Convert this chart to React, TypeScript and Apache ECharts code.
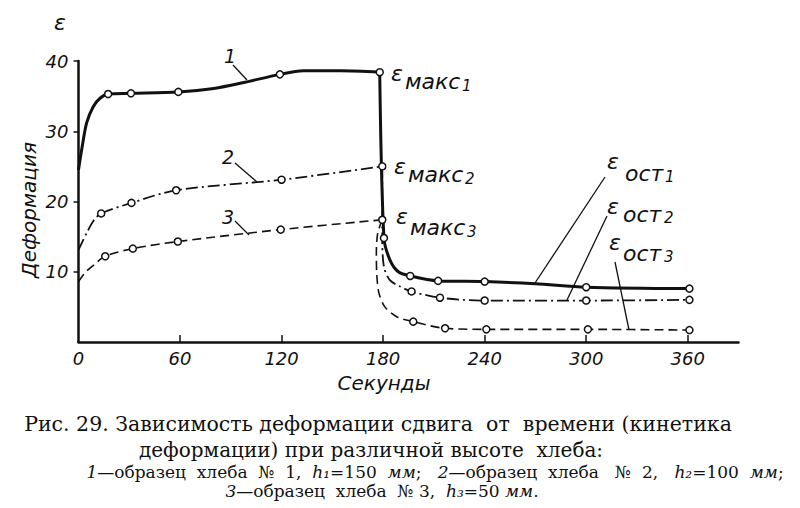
import React, { useEffect, useRef } from "react";
import * as echarts from "echarts";

// [seconds, deformation, 1 = measured point drawn as open circle]
type Pt = [number, number, number];

// Sample 1 (h1 = 150 mm), solid thick line
const load1: Pt[] = [
  [0, 24.5, 0], [1.9, 27.4, 0], [4.8, 31.2, 0], [8.7, 33.5, 0], [12.7, 34.7, 0],
  [17.5, 35.3, 1], [31, 35.4, 1], [59, 35.6, 1], [80, 36.1, 0], [97, 36.9, 0],
  [119, 38.1, 1], [133, 38.6, 0], [155, 38.6, 0], [178, 38.4, 1],
];
const unload1: Pt[] = [
  [178, 38.4, 0], [180.5, 14.8, 1], [184, 11.7, 0], [189, 10.0, 0], [196, 9.4, 1],
  [212.5, 8.7, 1], [240, 8.6, 1], [270, 8.3, 0], [300, 7.8, 1], [361, 7.6, 1],
];

// Sample 2 (h2 = 100 mm), dash-dot line
const load2: Pt[] = [
  [0, 13.1, 0], [4.8, 15.5, 0], [9, 17.3, 0], [13.4, 18.3, 1], [31.3, 19.8, 1],
  [57.7, 21.6, 1], [120, 23.1, 1], [179.5, 25.0, 1],
];
const unload2: Pt[] = [
  [179.5, 25.0, 0], [179.5, 14.5, 0], [180.5, 10.7, 0], [184, 8.8, 0], [190, 7.9, 0],
  [196.8, 7.2, 1], [213.6, 6.3, 1], [240, 5.9, 1], [300, 5.9, 1], [361, 6.0, 1],
];

// Sample 3 (h3 = 50 mm), dashed line
const load3: Pt[] = [
  [0, 8.6, 0], [4, 9.9, 0], [8.8, 10.9, 0], [15.8, 12.2, 1], [32.1, 13.3, 1],
  [58.7, 14.3, 1], [119.5, 16.0, 1], [179.5, 17.4, 1],
];
const unload3: Pt[] = [
  [179.5, 17.4, 0], [176.8, 15.5, 0], [176, 12.5, 0], [176.3, 9.5, 0], [177.5, 7.0, 0],
  [181, 5.0, 0], [188, 3.6, 0], [197.8, 2.9, 1], [216.6, 1.95, 1], [241, 1.8, 1],
  [301, 1.8, 1], [361, 1.7, 1],
];

const xTicks = [0, 60, 120, 180, 240, 300, 360];
const yTicks = [10, 20, 30, 40];

const S = "\u00A0";
const captionLines = [
  `Рис. 29. Зависимость деформации сдвига ${S}от ${S}времени (кинетика`,
  `деформации) при различной высоте ${S}хлеба:`,
];
const legendLine1 = `{i|1}—образец ${S}хлеба ${S}№ ${S}1, ${S}{i|h₁}=150 ${S}{i|мм}; ${S}${S}{i|2}—образец ${S}хлеба ${S}${S}№ ${S}2, ${S}${S}{i|h₂}=100 ${S}{i|мм};`;
const legendLine2 = `{i|3}—образец ${S}хлеба ${S}№ 3, ${S}{i|h₃}=50 {i|мм}.`;

const INK = "#111";
const LABEL_FONT = "DejaVu Sans";
const SERIF = "DejaVu Serif";

function lineSeries(pts: Pt[], width: number, type: any, z: number) {
  return {
    type: "line",
    data: pts.map((p) => [p[0], p[1]]),
    smooth: 0.3,
    showSymbol: false,
    symbol: "none",
    lineStyle: { color: INK, width, type },
    z,
    silent: true,
  };
}

function markerSeries(pts: Pt[]) {
  return {
    type: "scatter",
    data: pts.filter((p) => p[2] === 1).map((p) => [p[0], p[1]]),
    symbol: "circle",
    symbolSize: 7,
    itemStyle: { color: "#fff", borderColor: INK, borderWidth: 1.5, opacity: 1 },
    z: 10,
    silent: true,
  };
}

function txt(text: string, x: number, y: number, size: number, opts: any = {}) {
  return {
    type: "text",
    x,
    y,
    rotation: opts.rotation || 0,
    style: {
      text,
      fontSize: size,
      fontFamily: opts.family || LABEL_FONT,
      fontStyle: opts.italic === false ? "normal" : "italic",
      fill: INK,
      align: opts.align || "center",
      verticalAlign: "middle",
      rich: opts.rich,
    },
    z: 20,
  };
}

function leader(x1: number, y1: number, x2: number, y2: number) {
  return {
    type: "line",
    shape: { x1, y1, x2, y2 },
    style: { stroke: INK, lineWidth: 1.3 },
    z: 20,
  };
}

// epsilon, word (left-aligned at wx, wy), index (left-aligned at ix, iy)
function epsLabel(ex: number, ey: number, word: string, wx: number, wy: number, idx: string, ix: number, iy: number) {
  return [
    txt("ε", ex, ey, 22),
    txt(word, wx, wy, 22, { align: "left" }),
    txt(idx, ix, iy, 15, { align: "left" }),
  ];
}

export default function App() {
  const ref = useRef<HTMLDivElement>(null);
  useEffect(() => {
    document.body.style.margin = "0";
    document.body.style.background = "#fff";
    const chart = echarts.init(ref.current!, null, { renderer: "svg" });
    const axisText = { color: INK, fontSize: 18, fontStyle: "italic", fontFamily: LABEL_FONT };
    const rich = { i: { fontStyle: "italic", fontFamily: SERIF, fontSize: 17 } };
    chart.setOption({
      animation: false,
      backgroundColor: "#fff",
      grid: { left: 78.5, right: 61.5, top: 61, bottom: 166, containLabel: false },
      xAxis: {
        type: "value",
        min: 0,
        max: 390,
        interval: 60,
        axisLine: { show: true, onZero: false, lineStyle: { color: INK, width: 2.5 } },
        axisTick: { show: true, inside: true, length: 7, lineStyle: { color: INK, width: 1.5 }, customValues: xTicks.slice(1) },
        axisLabel: { ...axisText, margin: 7, customValues: xTicks, formatter: (v: number) => (v % 60 === 0 ? String(v) : "") },
        splitLine: { show: false },
      },
      yAxis: {
        type: "value",
        min: 0,
        max: 40,
        interval: 10,
        axisLine: { show: true, lineStyle: { color: INK, width: 2.5 } },
        axisTick: { show: true, inside: false, length: 5, lineStyle: { color: INK, width: 1.5 }, customValues: yTicks },
        axisLabel: { ...axisText, margin: 10, customValues: yTicks, formatter: (v: number) => (v === 0 ? "" : String(v)) },
        splitLine: { show: false },
      },
      series: [
        lineSeries(load3, 1.6, [9, 5], 3),
        lineSeries(unload3, 1.6, [9, 5], 3),
        lineSeries(load2, 1.8, [12, 4, 2, 4], 4),
        lineSeries(unload2, 1.8, [12, 4, 2, 4], 4),
        lineSeries(load1, 3, "solid", 5),
        lineSeries(unload1, 3, "solid", 5),
        markerSeries(load3.concat(unload3)),
        markerSeries(load2.concat(unload2)),
        markerSeries(load1.concat(unload1)),
      ],
      graphic: [
        txt("ε", 60, 22, 22),
        txt("Деформация", 29, 210, 20, { rotation: Math.PI / 2 }),
        txt("Секунды", 384, 383, 20),
        txt("1", 230, 56, 19),
        leader(233, 65, 247, 80),
        txt("2", 228, 157, 19),
        leader(235, 163, 257, 182),
        txt("3", 228, 217, 19),
        leader(235, 221, 249, 235),
        ...epsLabel(397, 73, "макс", 405, 81, "1", 462, 86),
        ...epsLabel(400, 166, "макс", 408, 174, "2", 465, 179),
        ...epsLabel(402, 216, "макс", 410, 227, "3", 467, 232),
        ...epsLabel(613, 161, "ост", 625, 173, "1", 665, 177),
        ...epsLabel(613, 206, "ост", 623, 214, "2", 664, 218),
        ...epsLabel(615, 242, "ост", 623, 253, "3", 664, 257),
        leader(605, 177, 535, 283),
        leader(607, 216, 567, 300),
        leader(615, 262, 629, 330),
        txt(captionLines[0], 378, 424, 20.5, { family: SERIF, italic: false }),
        txt(captionLines[1], 371, 450, 20, { family: SERIF, italic: false }),
        txt(legendLine1, 435, 472, 17, { family: SERIF, italic: false, rich }),
        txt(legendLine2, 382, 491, 17, { family: SERIF, italic: false, rich }),
      ],
    });
    return () => chart.dispose();
  }, []);
  return <div ref={ref} style={{ width: 800, height: 508 }} />;
}
